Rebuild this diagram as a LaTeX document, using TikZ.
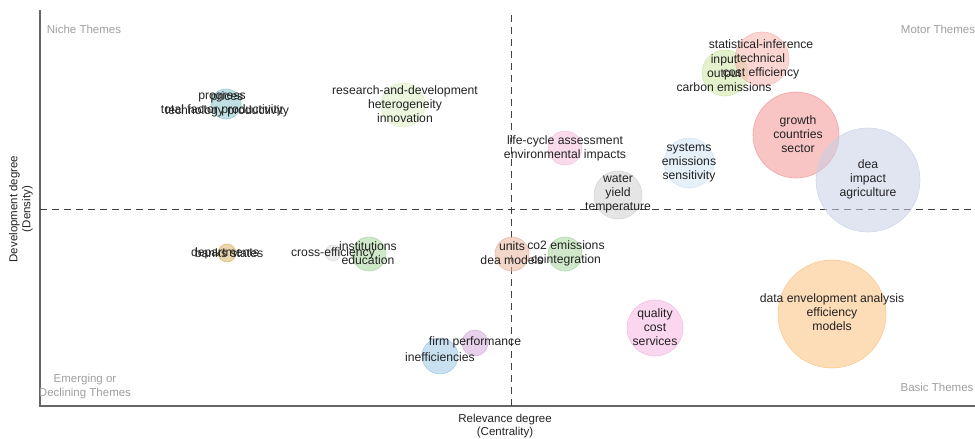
\documentclass[tikz,border=0pt]{standalone}
\usepackage{fontspec}
\setmainfont{Liberation Sans}
\definecolor{cteal}{HTML}{8CC6CC}
\definecolor{cpale}{HTML}{DCEEC4}
\definecolor{cpink}{HTML}{F5BEDA}
\definecolor{clblue}{HTML}{CFE3F3}
\definecolor{cgrey}{HTML}{CFCFCF}
\definecolor{cred}{HTML}{F29494}
\definecolor{clav}{HTML}{C9D0E8}
\definecolor{cgreen}{HTML}{CDE6A4}
\definecolor{cred2}{HTML}{F7B5AE}
\definecolor{ctan}{HTML}{D8B46A}
\definecolor{cgrey2}{HTML}{DDDDDD}
\definecolor{cgreen2}{HTML}{A6D69C}
\definecolor{cpeach}{HTML}{E6B49C}
\definecolor{cpink2}{HTML}{F6B4E2}
\definecolor{corange}{HTML}{FCC07E}
\definecolor{cpurple}{HTML}{D4AAD8}
\definecolor{cblue}{HTML}{9CC6E6}
\definecolor{ctext}{HTML}{222222}
\begin{document}
\begin{tikzpicture}[x=1pt,y=-1pt,
  bub/.style n args={2}{circle,inner sep=0pt,minimum size=#2,fill=#1,fill opacity=0.55,draw=#1,draw opacity=0.8,line width=0.6pt},
  lab/.style={align=center,inner sep=0pt,font=\fontsize{12.2}{14}\selectfont,text=ctext},
  quad/.style={align=center,inner sep=0pt,font=\fontsize{11.5}{14}\selectfont,text=gray!75},
  axlab/.style={align=center,inner sep=0pt,font=\fontsize{11.5}{13}\selectfont,text=ctext},
  axis/.style={draw=gray!80!black,line width=1.2pt},
  mid/.style={draw=black!75,line width=0.9pt,dash pattern=on 7pt off 5pt}]
\useasboundingbox (0,0) rectangle (975,439);
% axes
\coordinate (ytop) at (40,10);
\coordinate (orig) at (40,406);
\coordinate (xend) at (975,406);
\draw[axis] (ytop) -- (orig) -- (xend);
\coordinate (vtop) at (511,15);
\coordinate (vbot) at (511,406);
\coordinate (hl) at (40,209);
\coordinate (hr) at (975,209);
\draw[mid] (vtop) -- (vbot);
\draw[mid] (hl) -- (hr);
% bubbles
\node[bub={cteal}{30pt}] (b1) at (226,104) {};
\node[bub={cpale}{44pt}] (b2) at (403,105) {};
\node[bub={cpink}{34pt}] (b3) at (565,148) {};
\node[bub={clblue}{50pt}] (b4) at (689,163) {};
\node[bub={cgrey}{48pt}] (b5) at (618,195) {};
\node[bub={cred}{86pt}] (b6) at (796,135) {};
\node[bub={clav}{104pt}] (b7) at (868,180) {};
\node[bub={cgreen}{46pt}] (b8) at (725,73) {};
\node[bub={cred2}{54pt}] (b9) at (762,59) {};
\node[bub={ctan}{18pt}] (b10) at (227,253) {};
\node[bub={cgrey2}{16pt}] (b11) at (333,253) {};
\node[bub={cgreen2}{34pt}] (b12) at (369,254) {};
\node[bub={cpeach}{34pt}] (b13) at (512,254) {};
\node[bub={cgreen2}{34pt}] (b14) at (565,254) {};
\node[bub={cpink2}{56pt}] (b15) at (655,328) {};
\node[bub={corange}{108pt}] (b16) at (832,314) {};
\node[bub={cpurple}{26pt}] (b17) at (475,343) {};
\node[bub={cblue}{36pt}] (b18) at (440,356) {};
% labels
\node[lab] (t1a) at (222,104) {progress\\total factor productivity};
\node[lab] (t1b) at (227,104) {prices\\technology productivity};
\node[lab] (t2) at (405,104) {research-and-development\\heterogeneity\\innovation};
\node[lab] (t3) at (565,148) {life-cycle assessment\\environmental impacts};
\node[lab] (t4) at (689,163) {systems\\emissions\\sensitivity};
\node[lab] (t5) at (618,194) {water\\yield\\temperature};
\node[lab] (t6) at (798,134) {growth\\countries\\sector};
\node[lab] (t7) at (868,179) {dea\\impact\\agriculture};
\node[lab] (t8) at (724,73) {input\\output\\carbon emissions};
\node[lab] (t9) at (761,59) {statistical-inference\\technical\\cost efficiency};
\node[lab] (t10a) at (225,253) {departments};
\node[lab] (t10b) at (229,253) {banks states};
\node[lab] (t11) at (333,253) {cross-efficiency};
\node[lab] (t12) at (368,253) {institutions\\education};
\node[lab] (t13) at (512,253) {units\\dea models};
\node[lab] (t14) at (566,253) {co2 emissions\\cointegration};
\node[lab] (t15) at (655,327) {quality\\cost\\services};
\node[lab] (t16) at (832,312) {data envelopment analysis\\efficiency\\models};
\node[lab] (t17) at (475,342) {firm performance};
\node[lab] (t18) at (440,357) {inefficiencies};
% quadrant labels
\node[quad] (q1) at (84,29) {Niche Themes};
\node[quad] (q2) at (938,29) {Motor Themes};
\begin{scope}
\clip (40,0) rectangle (975,439);
\node[quad] (q3) at (85,387) {Emerging or\\Declining Themes};
\end{scope}
\node[quad] (q4) at (937,387) {Basic Themes};
% axis labels
\node[axlab] (xl) at (505,426) {Relevance degree\\(Centrality)};
\node[axlab,rotate=90] (yl) at (21,209) {Development degree\\(Density)};
\end{tikzpicture}
\end{document}
